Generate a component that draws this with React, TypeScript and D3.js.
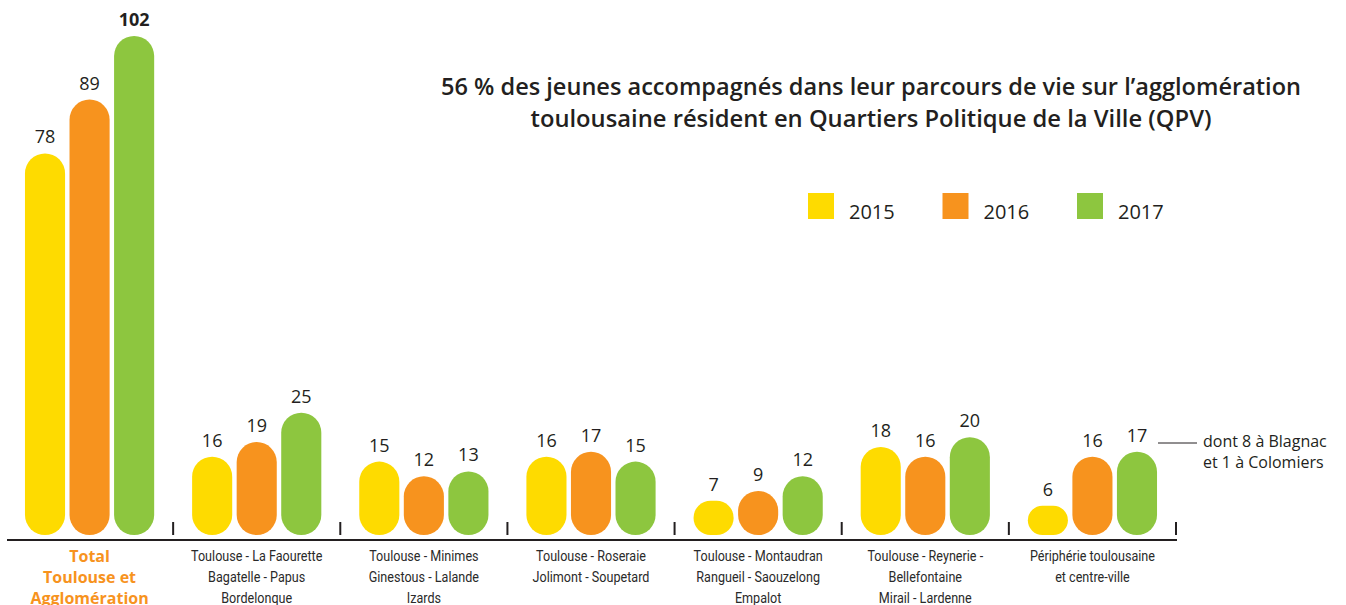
import React from "react";
import * as d3 from "d3";

const categories = ["total", "faourette", "minimes", "roseraie", "montaudran", "reynerie", "peripherie"];
const categoryLines: string[][] = [
  ["Total", "Toulouse et", "Agglomération"],
  ["Toulouse - La Faourette", "Bagatelle - Papus", "Bordelonque"],
  ["Toulouse - Minimes", "Ginestous - Lalande", "Izards"],
  ["Toulouse - Roseraie", "Jolimont - Soupetard"],
  ["Toulouse - Montaudran", "Rangueil - Saouzelong", "Empalot"],
  ["Toulouse - Reynerie -", "Bellefontaine", "Mirail - Lardenne"],
  ["Périphérie toulousaine", "et centre-ville"],
];
const years = ["2015", "2016", "2017"];
const values2015 = [78, 16, 15, 16, 7, 18, 6];
const values2016 = [89, 19, 12, 17, 9, 16, 16];
const values2017 = [102, 25, 13, 15, 12, 20, 17];
const seriesValues = [values2015, values2016, values2017];
const colors = ["#FEDB00", "#F7931E", "#8DC63F"];
const titleLines = [
  "56 % des jeunes accompagnés dans leur parcours de vie sur l’agglomération",
  "toulousaine résident en Quartiers Politique de la Ville (QPV)",
];
const titleWidths = [860, 681];
const annotationLines = ["dont 8 à Blagnac", "et 1 à Colomiers"];

const W = 1346;
const H = 605;
const TEXT = "#231F20";
const SANS = "'Open Sans', 'Noto Sans', sans-serif";
const NARROW = "Roboto, 'Open Sans', sans-serif";

export default function App() {
  const x = d3.scaleBand<string>().domain(categories).range([6, 1176]).padding(0);
  const inner = d3.scaleBand<string>().domain(years).range([-64.6, 64.6]).paddingInner(0.1).paddingOuter(0);
  const y = d3.scaleLinear().domain([0, 102]).range([535, 36]);
  const bw = inner.bandwidth();
  const baseY = y(0);

  return (
    <svg width={W} height={H} style={{ position: "absolute", left: 0, top: 0, background: "#fff" }}>
      {/* title */}
      {titleLines.map((t, i) => (
        <text
          key={i}
          x={871}
          y={95 + i * 32}
          textAnchor="middle"
          fontFamily={SANS}
          fontWeight={600}
          fontSize={23}
          fill={TEXT}
          textLength={titleWidths[i]}
          lengthAdjust="spacingAndGlyphs"
        >
          {t}
        </text>
      ))}

      {/* legend */}
      {years.map((yr, i) => (
        <g key={yr} transform={`translate(${808 + i * 134.5},193)`}>
          <rect width={26} height={26} fill={colors[i]} />
          <text x={41} y={26} fontFamily={SANS} fontSize={20} fill={TEXT}>
            {yr}
          </text>
        </g>
      ))}

      {/* bars */}
      {categories.map((c, ci) => {
        const cx = (x(c) as number) + x.bandwidth() / 2;
        return (
          <g key={c}>
            {years.map((yr, si) => {
              const v = seriesValues[si][ci];
              const top = y(v);
              const h = baseY - top;
              const bx = cx + (inner(yr) as number);
              const r = Math.min(bw / 2, h / 2);
              return (
                <g key={yr}>
                  <rect x={bx} y={top} width={bw} height={h} rx={r} ry={r} fill={colors[si]} />
                  <text
                    x={bx + bw / 2}
                    y={top - 10}
                    textAnchor="middle"
                    fontFamily={SANS}
                    fontSize={18}
                    fontWeight={ci === 0 && si === 2 ? 700 : 400}
                    fill={TEXT}
                  >
                    {v}
                  </text>
                </g>
              );
            })}
            {categoryLines[ci].map((line, li) =>
              ci === 0 ? (
                <text
                  key={li}
                  x={cx}
                  y={562 + li * 21}
                  textAnchor="middle"
                  fontFamily={SANS}
                  fontWeight={700}
                  fontSize={16}
                  fill="#F7931E"
                >
                  {line}
                </text>
              ) : (
                <text
                  key={li}
                  transform={`translate(${cx},${561 + li * 21}) scale(0.84,1)`}
                  textAnchor="middle"
                  fontFamily={NARROW}
                  fontSize={15}
                  fill="#2A2A2A"
                >
                  {line}
                </text>
              )
            )}
          </g>
        );
      })}

      {/* axis ticks */}
      {categories.map((c) => {
        const tx = (x(c) as number) + x.bandwidth();
        return <line key={c} x1={tx} x2={tx} y1={522} y2={535} stroke={TEXT} strokeWidth={2} />;
      })}
      <line x1={7} x2={1177} y1={540} y2={540} stroke={TEXT} strokeWidth={2} />

      {/* annotation */}
      <line x1={1158} x2={1197} y1={443} y2={443} stroke={TEXT} strokeWidth={1} />
      {annotationLines.map((t, i) => (
        <text key={i} x={1203} y={447 + i * 21} fontFamily={SANS} fontSize={16} fill={TEXT}>
          {t}
        </text>
      ))}
    </svg>
  );
}
